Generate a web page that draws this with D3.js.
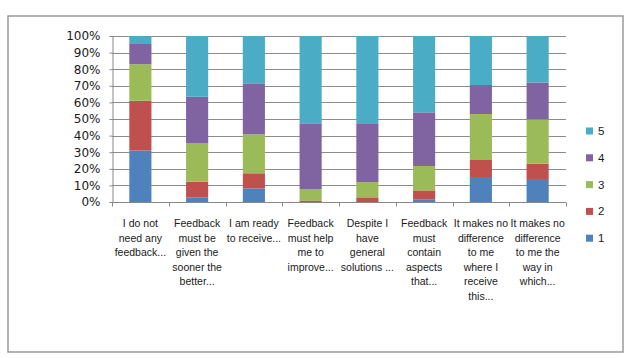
<!DOCTYPE html>
<html><head><meta charset="utf-8">
<script src="https://cdn.jsdelivr.net/npm/d3@7"></script>
<style>body{margin:0;background:#fff}svg{display:block}</style>
</head><body>
<svg id="c" width="634" height="358"></svg>
<script>
const categories = [
  ["I do not","need any","feedback..."],
  ["Feedback","must be","given the","sooner the","better..."],
  ["I am ready","to receive..."],
  ["Feedback","must help","me to","improve..."],
  ["Despite I","have","general","solutions ..."],
  ["Feedback","must","contain","aspects","that..."],
  ["It makes no","difference","to me","where I","receive","this..."],
  ["It makes no","difference","to me the","way in","which..."]
];
const s1 = [31, 2.8, 8.2, 0, 0, 1.4, 14.5, 13.3];
const s2 = [30, 9.4, 9.1, 0.9, 2.8, 5.6, 10.8, 9.7];
const s3 = [22, 23.1, 23.5, 6.9, 9.2, 14.7, 27.7, 26.8];
const s4 = [12.2, 28.1, 30.7, 39.6, 35, 32.3, 17.5, 22.2];
const s5 = [4.8, 36.6, 28.5, 52.6, 53, 46, 29.5, 28];
const seriesNames = ["1","2","3","4","5"];
const colors = ["#4F81BD","#C0504D","#9BBB59","#8064A2","#4BACC6"];
const yTicks = [0,10,20,30,40,50,60,70,80,90,100];

const svg = d3.select("#c");
svg.append("rect").attr("x",8).attr("y",16).attr("width",615).attr("height",336)
  .attr("fill","#fff").attr("stroke","#9a9a9a").attr("stroke-width",1.5);

const L=112, R=566, T=36, B=202;
const x = d3.scaleBand().domain(d3.range(categories.length)).range([L,R]).paddingInner(0.61).paddingOuter(0.305);
const xb = d3.scaleBand().domain(d3.range(categories.length)).range([L,R]);
const y = d3.scaleLinear().domain([0,100]).range([B,T]);

svg.append("g").selectAll("line").data(yTicks.filter(d=>d>0)).join("line")
  .attr("x1",L).attr("x2",R).attr("y1",d=>Math.round(y(d))+0.5).attr("y2",d=>Math.round(y(d))+0.5)
  .attr("stroke","#8c8c8c").attr("stroke-width",1);

const all = [s1,s2,s3,s4,s5];
const rows = categories.map((c,i)=>{const o={i}; seriesNames.forEach((n,k)=>o[n]=all[k][i]); return o;});
const stack = d3.stack().keys(seriesNames)(rows);
svg.append("g").selectAll("g").data(stack).join("g").attr("fill",(d,k)=>colors[k])
  .selectAll("rect").data(d=>d).join("rect")
  .attr("x",d=>x(d.data.i)).attr("width",x.bandwidth())
  .attr("y",d=>y(d[1])).attr("height",d=>Math.max(0,y(d[0])-y(d[1])));

const ya = d3.axisLeft(y).tickValues(yTicks).tickFormat(d=>d+"%").tickSize(3).tickPadding(9);
const gy = svg.append("g").attr("transform",`translate(${L+0.5},0)`).call(ya);
gy.selectAll("path,line").attr("stroke","#888");
gy.selectAll("text").attr("font-family","DejaVu Sans, sans-serif").attr("font-size",12).attr("fill","#1a1a1a");

const gx = svg.append("g").attr("transform",`translate(0,${B+0.5})`);
gx.append("line").attr("x1",L).attr("x2",R).attr("stroke","#888");
gx.selectAll("line.t").data(d3.range(categories.length+1)).join("line").attr("class","t")
  .attr("x1",i=>Math.round(L+i*xb.step())+0.5).attr("x2",i=>Math.round(L+i*xb.step())+0.5)
  .attr("y1",0).attr("y2",4).attr("stroke","#888");

const lab = svg.append("g").attr("font-family","Liberation Sans, Arial, sans-serif").attr("font-size",10.5).attr("fill","#1a1a1a");
categories.forEach((lines,i)=>{
  const t = lab.append("text").attr("text-anchor","middle").attr("x",xb(i)+xb.bandwidth()/2).attr("y",227);
  lines.forEach((ln,j)=>t.append("tspan").attr("x",xb(i)+xb.bandwidth()/2).attr("dy",j?14.5:0).text(ln));
});

const lg = svg.append("g");
const order = [4,3,2,1,0];
order.forEach((k,j)=>{
  const yy = 131 + j*26.8;
  lg.append("rect").attr("x",586).attr("y",yy-3.5).attr("width",7).attr("height",7).attr("fill",colors[k]);
  lg.append("text").attr("x",598).attr("y",yy+4).attr("font-family","Liberation Sans, Arial, sans-serif")
    .attr("font-size",11.5).attr("fill","#1a1a1a").text(seriesNames[k]);
});
</script>
</body></html>
